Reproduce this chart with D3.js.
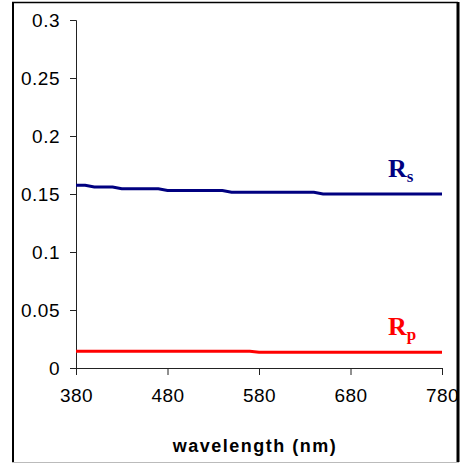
<!DOCTYPE html>
<html>
<head>
<meta charset="utf-8">
<script src="https://cdn.jsdelivr.net/npm/d3@7"></script>
<style>
  body { margin: 0; background: #fff; }
  svg { display: block; }
</style>
</head>
<body>
<div id="chart"></div>
<script>
// ==================== 数据 ====================
const wavelengths = [380, 390, 400, 410, 420, 430, 440, 450, 460, 470,
                     480, 490, 500, 510, 520, 530, 540, 550, 560, 570,
                     580, 590, 600, 610, 620, 630, 640, 650, 660, 670,
                     680, 690, 700, 710, 720, 730, 740, 750, 760, 770, 780];
const rsValues = [0.1575, 0.1575, 0.156, 0.156, 0.156, 0.1545, 0.1545, 0.1545, 0.1545, 0.1545,
                  0.153, 0.153, 0.153, 0.153, 0.153, 0.153, 0.153, 0.1515, 0.1515, 0.1515,
                  0.1515, 0.1515, 0.1515, 0.1515, 0.1515, 0.1515, 0.1515, 0.150, 0.150, 0.150,
                  0.150, 0.150, 0.150, 0.150, 0.150, 0.150, 0.150, 0.150, 0.150, 0.150, 0.150];
const rpValues = [0.0145, 0.0145, 0.0145, 0.0145, 0.0145, 0.0145, 0.0145, 0.0145, 0.0145, 0.0145,
                  0.0145, 0.0145, 0.0145, 0.0145, 0.0145, 0.0145, 0.0145, 0.0145, 0.0145, 0.0145,
                  0.0135, 0.0135, 0.0135, 0.0135, 0.0135, 0.0135, 0.0135, 0.0135, 0.0135, 0.0135,
                  0.0135, 0.0135, 0.0135, 0.0135, 0.0135, 0.0135, 0.0135, 0.0135, 0.0135, 0.0135, 0.0135];
const xTicks = [380, 480, 580, 680, 780];
const yTicks = [0, 0.05, 0.1, 0.15, 0.2, 0.25, 0.3];
const yTickLabels = ["0", "0.05", "0.1", "0.15", "0.2", "0.25", "0.3"];

const series = [
    {name: "R", sub: "s", values: rsValues, color: "#000080"},
    {name: "R", sub: "p", values: rpValues, color: "#ff0000"}
];

// ==================== 布局 ====================
const width = 461, height = 465;
const plot = {left: 76, right: 442, top: 20, bottom: 368};

const svg = d3.select("#chart").append("svg")
    .attr("width", width)
    .attr("height", height);

// 外框
svg.append("line").attr("x1", 13).attr("y1", 2).attr("x2", 13).attr("y2", 462)
    .attr("stroke", "#000").attr("stroke-width", 2);
svg.append("line").attr("x1", 12).attr("y1", 2.5).attr("x2", 458).attr("y2", 2.5)
    .attr("stroke", "#000").attr("stroke-width", 1.5);
svg.append("line").attr("x1", 458).attr("y1", 2).attr("x2", 458).attr("y2", 462)
    .attr("stroke", "#000").attr("stroke-width", 3);
svg.append("line").attr("x1", 12).attr("y1", 462.5).attr("x2", 459).attr("y2", 462.5)
    .attr("stroke", "#bbb").attr("stroke-width", 1);

const x = d3.scaleLinear().domain([380, 780]).range([plot.left, plot.right]);
const y = d3.scaleLinear().domain([0, 0.3]).range([plot.bottom, plot.top]);

// 坐标轴
const xAxis = svg.append("g")
    .attr("transform", `translate(0,${plot.bottom})`)
    .call(d3.axisBottom(x).tickValues(xTicks).tickSizeOuter(0).tickSize(7).tickPadding(14)
        .tickFormat(d3.format("d")));

const yAxis = svg.append("g")
    .attr("transform", `translate(${plot.left},0)`)
    .call(d3.axisLeft(y).tickValues(yTicks).tickSizeOuter(0).tickSize(6).tickPadding(10)
        .tickFormat((d, i) => yTickLabels[i]));

[xAxis, yAxis].forEach(g => {
    g.selectAll("path, line").attr("stroke", "#222");
    g.selectAll("text")
        .style("font-family", "Arial, 'Liberation Sans', sans-serif")
        .style("font-size", "19px")
        .style("letter-spacing", "0.5px")
        .attr("fill", "#000");
});

// 折线
const line = d3.line()
    .x((d, i) => x(wavelengths[i]))
    .y(d => y(d));

svg.selectAll(".series")
    .data(series)
    .join("path")
    .attr("class", "series")
    .attr("d", d => line(d.values))
    .attr("fill", "none")
    .attr("stroke", d => d.color)
    .attr("stroke-width", 3);

// 系列标签
const labels = svg.selectAll(".series-label")
    .data(series)
    .join("text")
    .attr("class", "series-label")
    .attr("x", 388)
    .attr("y", d => y(d.values[d.values.length - 1]) - 17)
    .attr("fill", d => d.color)
    .style("font-family", "'Times New Roman', 'Liberation Serif', serif")
    .style("font-weight", "bold")
    .style("font-size", "26px");

labels.append("tspan").text(d => d.name);
labels.append("tspan")
    .attr("dy", 5)
    .style("font-size", "17px")
    .text(d => d.sub);

// 轴标题
svg.append("text")
    .attr("x", 255)
    .attr("y", 452)
    .attr("text-anchor", "middle")
    .style("font-family", "Arial, 'Liberation Sans', sans-serif")
    .style("font-weight", "bold")
    .style("font-size", "18px")
    .style("letter-spacing", "1.5px")
    .text("wavelength (nm)");
</script>
</body>
</html>
